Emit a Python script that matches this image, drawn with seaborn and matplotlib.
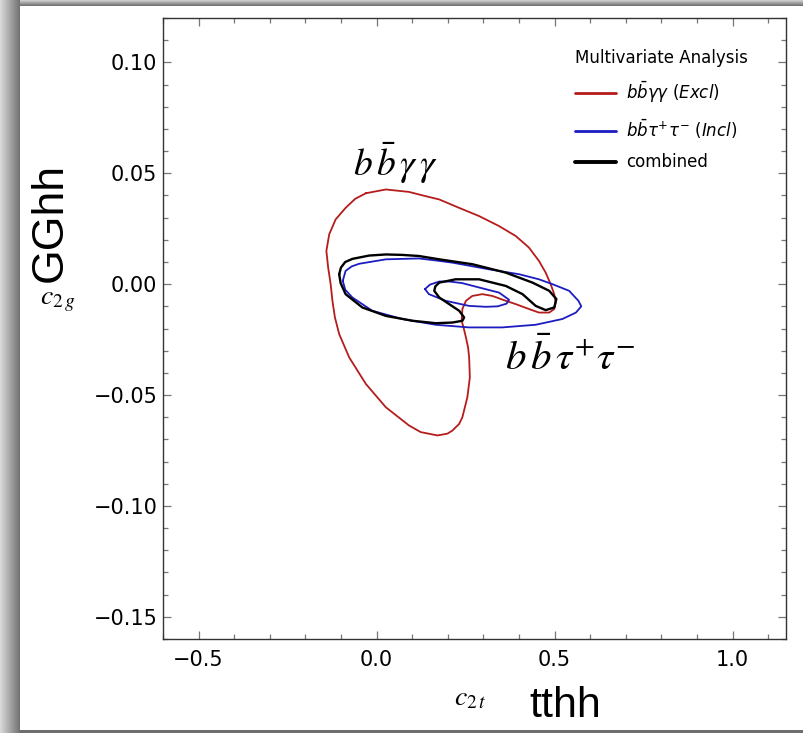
import numpy as np
import pandas as pd
import seaborn as sns
import matplotlib.pyplot as plt
from matplotlib.patches import Rectangle
from matplotlib.ticker import MultipleLocator, FuncFormatter

# contour outlines (c2t, c2g)
red_x = [-0.030, 0.026, 0.091, 0.135, 0.176, 0.232, 0.288, 0.344, 0.391, 0.428,
         0.456, 0.475, 0.489, 0.499, 0.503, 0.499, 0.485, 0.456, 0.428, 0.391,
         0.363, 0.325, 0.297, 0.269, 0.251, 0.241, 0.239, 0.245, 0.251, 0.257,
         0.260, 0.262, 0.255, 0.241, 0.232, 0.213, 0.199, 0.171, 0.124, 0.091,
         0.026, -0.030, -0.077, -0.105, -0.117, -0.124, -0.129, -0.136, -0.141, -0.133,
         -0.115, -0.087, -0.060]
red_y = [0.0410, 0.0427, 0.0416, 0.0398, 0.0382, 0.0344, 0.0307, 0.0262, 0.0217, 0.0165,
         0.0105, 0.0052, 0.0000, -0.0045, -0.0083, -0.0112, -0.0128, -0.0128, -0.0112, -0.0090,
         -0.0075, -0.0053, -0.0045, -0.0053, -0.0075, -0.0112, -0.0165, -0.0200, -0.0240, -0.0285,
         -0.0330, -0.0420, -0.0510, -0.0600, -0.0630, -0.0660, -0.0674, -0.0682, -0.0667, -0.0637,
         -0.0555, -0.0450, -0.0330, -0.0225, -0.0150, -0.0075, 0.0000, 0.0075, 0.0150, 0.0225,
         0.0292, 0.0344, 0.0385]

blue_out_x = [-0.095, -0.087, -0.070, -0.049, 0.026, 0.119, 0.176, 0.213, 0.316, 0.400,
              0.456, 0.494, 0.541, 0.567, 0.575, 0.560, 0.522, 0.447, 0.353, 0.260,
              0.166, 0.072, -0.012, -0.068, -0.088]
blue_out_y = [0.0015, 0.0060, 0.0080, 0.0092, 0.0112, 0.0116, 0.0105, 0.0097, 0.0067, 0.0045,
              0.0022, 0.0000, -0.0030, -0.0075, -0.0100, -0.0128, -0.0157, -0.0183, -0.0195, -0.0195,
              -0.0183, -0.0157, -0.0120, -0.0060, -0.0025]

blue_in_x = [0.136, 0.150, 0.176, 0.204, 0.240, 0.288, 0.344, 0.372, 0.365, 0.340,
             0.307, 0.260, 0.194, 0.147]
blue_in_y = [-0.0022, -0.0002, 0.0012, 0.0012, 0.0005, -0.0015, -0.0038, -0.0070, -0.0088, -0.0100,
             -0.0102, -0.0098, -0.0075, -0.0045]

black_x = [-0.105, -0.100, -0.088, -0.068, -0.021, 0.026, 0.072, 0.119, 0.176, 0.269,
           0.363, 0.438, 0.485, 0.505, 0.499, 0.475, 0.447, 0.410, 0.363, 0.288,
           0.222, 0.176, 0.165, 0.162, 0.176, 0.204, 0.232, 0.246, 0.241, 0.213,
           0.166, 0.101, 0.026, -0.040, -0.087, -0.101]
black_y = [0.0045, 0.0075, 0.0100, 0.0114, 0.0129, 0.0134, 0.0132, 0.0127, 0.0112, 0.0090,
           0.0052, 0.0007, -0.0030, -0.0067, -0.0105, -0.0117, -0.0098, -0.0045, -0.0008, 0.0022,
           0.0022, 0.0007, -0.0010, -0.0030, -0.0060, -0.0090, -0.0120, -0.0150, -0.0165, -0.0173,
           -0.0176, -0.0165, -0.0143, -0.0105, -0.0045, 0.0005]

labels = [r'$b\bar{b}\gamma\gamma$ ($\mathit{Excl}$)',
          r'$b\bar{b}\tau^{+}\tau^{-}$ ($\mathit{Incl}$)',
          'combined']


def closed(xs, ys):
    return pd.DataFrame({'x': xs + xs[:1], 'y': ys + ys[:1]})


sns.set_theme(style='ticks')
plt.rcParams['font.family'] = ['DejaVu Sans']
plt.rcParams['text.color'] = 'black'
plt.rcParams['xtick.labelcolor'] = 'black'
plt.rcParams['ytick.labelcolor'] = 'black'
plt.rcParams['lines.solid_joinstyle'] = 'round'

fig = plt.figure(figsize=(8.04, 7.33), dpi=100)

# grey frame shadow
for i in range(20):
    g = 0.85 - 0.4 * i / 19
    fig.add_artist(Rectangle((i / 804, 0), 1 / 804, 1, transform=fig.transFigure,
                             color=(g, g, g), zorder=0, lw=0))
for i in range(6):
    g = 0.8 - 0.35 * i / 5
    fig.add_artist(Rectangle((20 / 804, 1 - (i + 1) / 733), 1, 1 / 733,
                             transform=fig.transFigure, color=(g, g, g), zorder=0, lw=0))
fig.add_artist(Rectangle((20 / 804, 0), 1, 3 / 733, transform=fig.transFigure,
                         color='#6e6e6e', zorder=0, lw=0))

ax = fig.add_axes([0.2027, 0.1282, 0.7749, 0.8472])

red = '#b51c1c'
blue = '#1c1cc0'
sns.lineplot(data=closed(red_x, red_y), x='x', y='y', sort=False, estimator=None,
             color=red, lw=1.3, ax=ax, label=labels[0])
sns.lineplot(data=closed(blue_out_x, blue_out_y), x='x', y='y', sort=False, estimator=None,
             color=blue, lw=1.3, ax=ax, label=labels[1])
sns.lineplot(data=closed(blue_in_x, blue_in_y), x='x', y='y', sort=False, estimator=None,
             color=blue, lw=1.3, ax=ax)
sns.lineplot(data=closed(black_x, black_y), x='x', y='y', sort=False, estimator=None,
             color='black', lw=1.7, ax=ax, label=labels[2])

ax.set_xlim(-0.6, 1.15)
ax.set_ylim(-0.16, 0.12)
ax.set_xlabel('')
ax.set_ylabel('')

ax.xaxis.set_major_locator(MultipleLocator(0.5))
ax.xaxis.set_minor_locator(MultipleLocator(0.1))
ax.yaxis.set_major_locator(MultipleLocator(0.05))
ax.yaxis.set_minor_locator(MultipleLocator(0.01))
ax.xaxis.set_major_formatter(FuncFormatter(lambda v, p: f'{v:.1f}'.replace('-', '\u2212')))
ax.yaxis.set_major_formatter(FuncFormatter(lambda v, p: f'{v:.2f}'.replace('-', '\u2212')))
ax.tick_params(which='both', direction='in', top=True, right=True, color='#777777',
               width=0.9, labelsize=15)
ax.tick_params(axis='x', pad=8)
ax.tick_params(axis='y', pad=4)
ax.tick_params(which='major', length=6)
ax.tick_params(which='minor', length=3.5)
for s in ax.spines.values():
    s.set_color('#333333')
    s.set_linewidth(1.0)

leg = ax.legend(title='Multivariate Analysis', frameon=False, loc='upper left',
                bbox_to_anchor=(0.661, 0.950), borderaxespad=0, borderpad=0,
                fontsize=12, title_fontsize=12, handlelength=2.5, handletextpad=0.6,
                labelspacing=0.75, alignment='left')
for line in leg.get_lines():
    line.set_linewidth(2.0 if line.get_color() != 'black' else 2.8)

ax.text(0.053, 0.0487, r'$b\,\bar{b}\,\gamma\,\gamma$', fontsize=27, ha='center',
        va='baseline', math_fontfamily='stix')
ax.text(0.543, -0.0385, r'$b\,\bar{b}\,\tau^{+}\tau^{-}$', fontsize=29.5, ha='center',
        va='baseline', math_fontfamily='stix')

fig.text(0.703, 0.022, 'tthh', fontsize=31, ha='center', va='baseline',
         family='Liberation Sans')
fig.text(0.585, 0.037, r'$c_{2\,t}$', fontsize=20, ha='center', va='baseline',
         math_fontfamily='stix')
fig.text(0.063, 0.696, 'GGhh', fontsize=32, rotation=90, ha='center', va='center',
         family='Liberation Sans')
fig.text(0.072, 0.591, r'$c_{2\,g}$', fontsize=20, ha='center', va='center',
         math_fontfamily='stix')

fig.savefig('out.png', dpi=100)
